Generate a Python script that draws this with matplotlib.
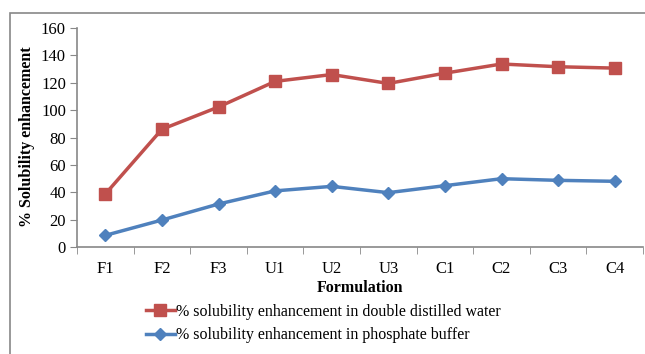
import matplotlib
matplotlib.use("Agg")
import matplotlib.pyplot as plt
from matplotlib.patches import Rectangle

categories = ["F1", "F2", "F3", "U1", "U2", "U3", "C1", "C2", "C3", "C4"]
water = [38.7, 86.0, 102.3, 121.0, 126.0, 119.5, 127.0, 133.7, 131.7, 130.7]
buffer = [8.5, 19.7, 31.4, 41.0, 44.3, 39.7, 44.8, 49.9, 48.7, 48.0]
yticks = [0, 20, 40, 60, 80, 100, 120, 140, 160]

W, H = 645, 354
plt.rcParams['font.family'] = ['Liberation Serif', 'DejaVu Serif']
fig = plt.figure(figsize=(W/100, H/100), dpi=100)

# outer chart border
fig.patches.append(Rectangle((10/W, -0.1), 1.2, (H-13)/H + 0.1, transform=fig.transFigure,
                             fill=False, edgecolor='#888888', linewidth=1.2))

ax = fig.add_axes([77/W, 107/H, (643-77)/W, (247-28)/H])
x = list(range(len(categories)))
l1, = ax.plot(x, water, color='#C0504D', linewidth=2.5, marker='s', markersize=8,
              label='% solubility enhancement in double distilled water')
l2, = ax.plot(x, buffer, color='#4F81BD', linewidth=2.5, marker='D', markersize=6.5,
              label='% solubility enhancement in phosphate buffer')

ax.set_xlim(-0.5, len(categories) - 0.5)
ax.set_ylim(0, 160)
ax.set_yticks(yticks)
ax.set_xticks(x)
ax.set_xticklabels(categories)
ax.set_xticks([i - 0.5 for i in range(len(categories) + 1)], minor=True)
ax.tick_params(axis='x', which='major', length=0, pad=10, labelsize=12)
ax.tick_params(axis='x', which='minor', length=5, color='#888888', direction='out')
ax.tick_params(axis='y', length=5, color='#888888', labelsize=12, pad=3)
for s in ['top', 'right']:
    ax.spines[s].set_visible(False)
for s in ['left', 'bottom']:
    ax.spines[s].set_color('#888888')
    ax.spines[s].set_linewidth(1.2)

fig.text(27/W, (H-137)/H, '% Solubility enhancement', rotation=90, ha='center', va='center',
         fontsize=11.5, fontweight='bold')
fig.text(360/W, (H-288)/H, 'Formulation', ha='center', va='center', fontsize=11.5, fontweight='bold')

fig.legend(handles=[l1, l2], loc='upper left', bbox_to_anchor=(146/W, (H-304)/H),
           frameon=False, fontsize=11.5, handlelength=1.8, handletextpad=0.05,
           labelspacing=0.45, borderaxespad=0, borderpad=0)

fig.savefig('out.png', dpi=100)
